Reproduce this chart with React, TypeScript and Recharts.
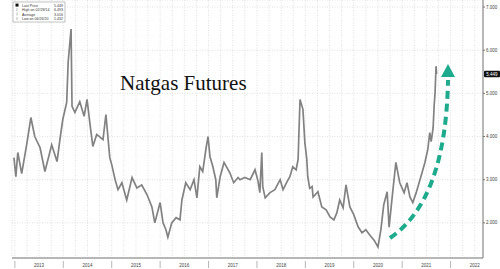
import React from "react";
import { LineChart, Line, XAxis, YAxis, CartesianGrid, ReferenceLine } from "recharts";

// decimal-year dates and front-month natgas prices
const dates = [
  2012.98, 2013.02, 2013.06, 2013.14, 2013.25, 2013.33, 2013.41, 2013.52, 2013.62, 2013.76,
  2013.87, 2013.93, 2013.99, 2014.07, 2014.10, 2014.16, 2014.18, 2014.24, 2014.34, 2014.43,
  2014.49, 2014.55, 2014.61, 2014.69, 2014.82, 2014.88, 2014.96, 2015.0, 2015.07, 2015.13,
  2015.21, 2015.31, 2015.42, 2015.52, 2015.62, 2015.73, 2015.83, 2015.89, 2016.0, 2016.06,
  2016.12, 2016.16, 2016.24, 2016.33, 2016.41, 2016.45, 2016.53, 2016.62, 2016.7, 2016.76,
  2016.82, 2016.88, 2016.95, 2016.99, 2017.03, 2017.09, 2017.15, 2017.17, 2017.24, 2017.32,
  2017.38, 2017.44, 2017.52, 2017.61, 2017.65, 2017.75, 2017.86, 2017.96, 2018.02, 2018.06,
  2018.1, 2018.12, 2018.17, 2018.27, 2018.37, 2018.48, 2018.54, 2018.62, 2018.68, 2018.74,
  2018.81, 2018.85, 2018.89, 2018.95, 2018.99, 2019.03, 2019.05, 2019.09, 2019.14, 2019.16,
  2019.26, 2019.34, 2019.43, 2019.51, 2019.59, 2019.65, 2019.71, 2019.78, 2019.84, 2019.92,
  2020.0, 2020.09, 2020.17, 2020.25, 2020.33, 2020.42, 2020.5, 2020.56, 2020.62, 2020.69,
  2020.73, 2020.81, 2020.87, 2020.95, 2021.04, 2021.1, 2021.16, 2021.22, 2021.29, 2021.35,
  2021.41, 2021.47, 2021.53, 2021.57, 2021.6, 2021.64, 2021.66, 2021.68, 2021.7, 2021.71,
];
const prices = [
  3.51, 3.07, 3.63, 3.14, 3.86, 4.44, 4.0, 3.74, 3.19, 3.81,
  3.42, 3.93, 4.4, 4.79, 5.72, 6.49, 4.7, 4.56, 4.81, 4.47,
  4.86, 4.3, 3.77, 4.05, 3.93, 4.51, 3.51, 3.35, 3.0, 2.77,
  2.93, 2.53, 3.05, 2.81, 2.88, 2.65, 2.37, 2.0, 2.47, 2.0,
  1.84, 1.67, 2.0, 2.12, 2.07, 2.53, 2.93, 2.77, 3.0, 2.58,
  3.3, 3.19, 3.74, 4.0, 3.53, 3.3, 3.0, 2.58, 3.07, 3.4,
  3.28, 3.16, 2.93, 3.05, 3.0, 3.05, 3.0, 3.23, 2.98, 2.7,
  3.63, 2.84, 2.58, 2.7, 2.77, 3.0, 2.77, 2.95, 3.07, 3.3,
  3.23, 3.47, 4.86, 4.63, 3.86, 3.47, 3.07, 2.8, 2.84, 2.6,
  2.72, 2.37, 2.3, 2.14, 2.07, 2.23, 2.53, 2.35, 2.88, 2.37,
  2.19, 1.91, 1.77, 1.84, 1.72, 1.6, 1.44, 1.84, 2.42, 2.72,
  1.9, 2.77, 3.4, 2.93, 2.7, 2.93, 2.6, 2.47, 2.7, 2.93,
  3.16, 3.4, 3.7, 4.09, 3.88, 4.21, 4.7, 5.02, 5.63, 5.449,
];
const yTicks = [2, 3, 4, 5, 6, 7];
const years = [2013, 2014, 2015, 2016, 2017, 2018, 2019, 2020, 2021, 2022];
const legendRows = [
  { label: "Last Price", value: "5.449" },
  { label: "High on 02/28/14", value: "6.493" },
  { label: "Average", value: "3.016" },
  { label: "Low on 06/26/20", value: "1.432" },
];
const lastPrice = 5.449;
const title = "Natgas Futures";

const data = dates.map((t, i) => ({ t, p: prices[i] }));
const quarterTicks: number[] = [];
years.forEach((y) => {
  [0, 0.25, 0.5, 0.75].forEach((q) => {
    if (y + q <= 2022.6) quarterTicks.push(y + q);
  });
});

const YEAR_PX = 48.4;

const YearTick = (props: any) => {
  const { x, y, payload } = props;
  const v = payload.value;
  if (Math.abs(v - Math.round(v)) > 1e-6) return <g />;
  return (
    <g>
      <line x1={x} x2={x} y1={y + 3} y2={y + 10} stroke="#888" strokeWidth={0.6} />
      <text x={x + YEAR_PX / 2} y={y + 9} fontSize={4.5} fill="#444" textAnchor="middle" fontFamily="Liberation Sans">
        {Math.round(v)}
      </text>
    </g>
  );
};

const LastLabel = (props: any) => {
  const vb = props.viewBox || {};
  const x = vb.x + vb.width + 1;
  const y = vb.y;
  return (
    <g>
      <rect x={x} y={y - 3.2} width={16} height={6.4} rx={1} fill="#111" />
      <text x={x + 8} y={y + 1.6} fontSize={4.5} fill="#fff" textAnchor="middle" fontFamily="Liberation Sans">
        {lastPrice.toFixed(3)}
      </text>
    </g>
  );
};

export default function App() {
  return (
    <div style={{ position: "absolute", left: 0, top: 0, width: 500, height: 269, background: "#fff", overflow: "hidden" }}>
      <LineChart width={500} height={269} data={data} margin={{ top: 0, right: 0, left: 12, bottom: 0 }}>
        <CartesianGrid stroke="#cfcfcf" strokeDasharray="1 1.5" strokeWidth={0.6} />
        <XAxis
          type="number"
          dataKey="t"
          domain={[2012.94, 2022.67]}
          ticks={quarterTicks}
          interval={0}
          tick={<YearTick />}
          tickLine={false}
          tickSize={0}
          tickMargin={0}
          height={11}
          stroke="#777"
          allowDataOverflow
        />
        <YAxis
          orientation="right"
          width={17}
          domain={[1.186, 7.163]}
          ticks={yTicks}
          interval={0}
          tickSize={2}
          tickMargin={1}
          tick={{ fontSize: 4.5, fill: "#444", fontFamily: "Liberation Sans" }}
          tickFormatter={(v: number) => v.toFixed(3)}
          stroke="#777"
          allowDataOverflow
        />
        <ReferenceLine y={lastPrice} stroke="none" label={<LastLabel />} />
        <Line
          type="linear"
          dataKey="p"
          stroke="#828282"
          strokeWidth={1.7}
          dot={false}
          isAnimationActive={false}
        />
      </LineChart>
      <svg width={500} height={269} style={{ position: "absolute", left: 0, top: 0, pointerEvents: "none" }}>
        <text x={120} y={90} fontFamily="Liberation Serif" fontSize={21} fill="#111">
          {title}
        </text>
        <rect x={13} y={2} width={52} height={20} fill="#fff" stroke="#999" strokeWidth={0.6} />
        {legendRows.map((r, i) => (
          <g key={r.label}>
            {i === 0 ? (
              <rect x={15.5} y={3.6 + i * 4.5} width={3} height={3} fill="#111" />
            ) : (
              <line x1={17} x2={17} y1={3.6 + i * 4.5} y2={6.6 + i * 4.5} stroke="#777" strokeWidth={0.5} />
            )}
            <text x={22} y={6.6 + i * 4.5} fontSize={3.6} fill="#333" fontFamily="Liberation Sans">
              {r.label}
            </text>
            <text x={63} y={6.6 + i * 4.5} fontSize={3.6} fill="#333" textAnchor="end" fontFamily="Liberation Sans">
              {r.value}
            </text>
          </g>
        ))}
        <path
          d="M390,238 Q446,200 448,80"
          fill="none"
          stroke="#1eaa8c"
          strokeWidth={4}
          strokeDasharray="8 5"
        />
        <polygon points="441,77 455,77 448,64" fill="#1eaa8c" />
      </svg>
    </div>
  );
}
